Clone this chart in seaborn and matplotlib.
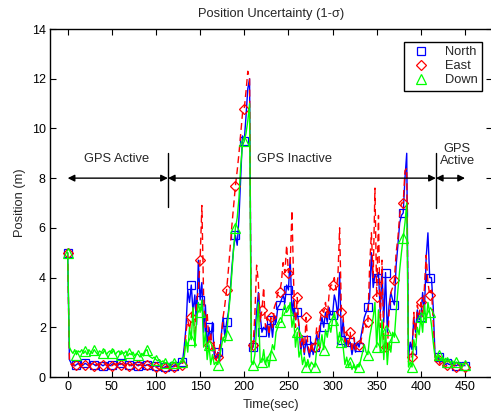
import numpy as np
import pandas as pd
import matplotlib
matplotlib.use("Agg")
import matplotlib.pyplot as plt
from matplotlib.lines import Line2D
import seaborn as sns

# ---------------- data (sampled every 2 s, 0..450 s) ----------------
north_active1 = [5.0, 0.7, 0.55, 0.5, 0.45, 0.5, 0.55, 0.5, 0.45, 0.5,
                 0.55, 0.5, 0.45, 0.5, 0.55, 0.5, 0.45, 0.5, 0.55, 0.5,
                 0.45, 0.5, 0.55, 0.5, 0.45, 0.5, 0.55, 0.5, 0.45, 0.5,
                 0.55, 0.5, 0.45, 0.5, 0.55, 0.5, 0.45, 0.5, 0.55, 0.5,
                 0.45, 0.5, 0.55, 0.5, 0.45, 0.5, 0.5, 0.45, 0.4, 0.45,
                 0.45, 0.4, 0.45, 0.4, 0.35, 0.4, 0.45, 0.4, 0.45, 0.4,
                 0.45, 0.5, 0.45, 0.5, 0.55]
north_inactive = [0.6, 1.2, 2.0, 3.5, 3.0, 3.7, 2.6, 3.3, 2.1, 4.7,
                  3.1, 3.8, 1.8, 2.9, 1.2, 2.0, 1.5, 2.2, 0.9, 0.7,
                  1.0, 0.6, 1.7, 2.4, 1.6, 2.2, 2.6, 3.4, 4.4, 5.2,
                  5.7, 5.3, 6.4, 8.0, 9.7, 9.5, 10.5, 11.6, 12.0, 1.1,
                  1.2, 1.8, 2.6, 3.4, 2.5, 1.8, 2.0, 1.9, 2.1, 1.6,
                  2.3, 1.6, 2.4, 2.2, 2.8, 2.9, 3.1, 3.3, 3.0, 3.7,
                  3.5, 4.8, 2.6, 3.1, 2.3, 2.6, 2.1, 1.0, 1.6, 0.9,
                  1.5, 1.1, 0.8, 1.4, 0.9, 1.2, 1.7, 1.3, 2.0, 2.4,
                  2.0, 2.6, 2.2, 2.8, 2.5, 2.5, 3.3, 3.0, 2.4, 4.2,
                  1.5, 2.3, 1.2, 1.5, 1.3, 1.4, 0.9, 1.3, 1.0, 1.4,
                  1.2, 1.6, 2.0, 2.4, 2.6, 2.8, 3.2, 5.0, 3.6, 4.1,
                  4.0, 4.2, 2.6, 4.3, 2.2, 4.2, 1.8, 2.9, 3.4, 3.1,
                  2.9, 4.5, 5.3, 6.2, 6.5, 6.6, 8.0, 9.0, 0.8, 1.4,
                  1.1, 2.4, 1.8, 2.7, 2.3, 2.4, 3.4, 2.6, 4.8, 5.8,
                  4.0, 4.0, 2.8]
north_active2 = [0.9, 0.7, 0.8, 0.6, 0.7, 0.6, 0.5, 0.55, 0.5, 0.5,
                 0.45, 0.5, 0.45, 0.5, 0.45, 0.45, 0.5, 0.45]

east_active1 = [5.0, 0.65, 0.5, 0.55, 0.45, 0.5, 0.55, 0.45, 0.5, 0.5,
                0.5, 0.55, 0.45, 0.5, 0.55, 0.45, 0.5, 0.5, 0.55, 0.45,
                0.5, 0.55, 0.45, 0.5, 0.55, 0.45, 0.5, 0.5, 0.55, 0.45,
                0.5, 0.55, 0.45, 0.5, 0.55, 0.45, 0.5, 0.5, 0.55, 0.45,
                0.5, 0.5, 0.45, 0.5, 0.45, 0.5, 0.45, 0.4, 0.45, 0.4,
                0.4, 0.35, 0.3, 0.35, 0.3, 0.35, 0.4, 0.35, 0.4, 0.45,
                0.4, 0.45, 0.4, 0.45, 0.5]
east_inactive = [0.5, 0.9, 1.8, 2.3, 1.9, 2.4, 2.8, 1.6, 3.0, 3.5,
                 4.7, 6.9, 3.2, 2.0, 2.6, 1.3, 1.8, 1.0, 1.4, 0.7,
                 0.8, 1.2, 1.6, 2.4, 2.9, 3.5, 4.3, 5.2, 6.1, 6.9,
                 7.7, 8.3, 9.0, 9.8, 10.6, 10.8, 11.5, 12.3, 12.0, 1.0,
                 1.3, 2.5, 4.5, 3.8, 2.2, 2.7, 3.6, 2.0, 2.4, 1.7,
                 2.4, 2.0, 2.8, 3.0, 3.4, 3.4, 3.8, 4.6, 4.2, 5.3,
                 4.2, 4.5, 6.7, 3.7, 2.0, 3.2, 1.9, 1.2, 1.7, 1.0,
                 2.4, 1.3, 0.9, 1.4, 1.1, 1.2, 2.0, 1.6, 2.3, 2.7,
                 2.6, 3.0, 2.4, 3.3, 3.7, 3.7, 4.0, 3.5, 4.0, 6.0,
                 2.6, 2.4, 1.4, 1.8, 1.2, 1.8, 1.0, 1.6, 1.1, 1.3,
                 1.3, 1.4, 1.8, 2.2, 2.0, 2.2, 4.5, 5.8, 4.0, 7.6,
                 3.2, 6.5, 2.0, 4.7, 1.5, 1.2, 1.0, 2.6, 3.4, 3.6,
                 3.9, 5.0, 5.6, 6.5, 7.0, 7.0, 8.3, 8.4, 0.6, 0.9,
                 0.8, 2.6, 1.6, 2.9, 2.5, 3.0, 2.4, 3.6, 4.9, 3.8,
                 3.3, 3.5, 2.2]
east_active2 = [0.8, 0.6, 0.7, 0.5, 0.6, 0.5, 0.4, 0.5, 0.45, 0.4,
                0.5, 0.45, 0.4, 0.45, 0.5, 0.4, 0.45, 0.4]

down_active1 = [5.0, 1.2, 1.05, 0.95, 1.1, 0.9, 1.05, 1.0, 1.1, 0.95,
                1.05, 0.9, 1.1, 1.0, 0.95, 1.1, 1.0, 0.9, 1.05, 1.0,
                0.95, 1.1, 0.9, 1.0, 1.05, 0.95, 1.1, 0.9, 1.0, 1.05,
                0.9, 1.0, 0.95, 1.05, 0.85, 0.95, 0.9, 1.0, 0.85, 0.95,
                0.9, 0.8, 0.95, 0.85, 1.05, 1.1, 0.85, 0.8, 0.75, 0.8,
                0.7, 0.65, 0.7, 0.6, 0.65, 0.55, 0.6, 0.5, 0.55, 0.6,
                0.55, 0.6, 0.5, 0.55, 0.6]
down_inactive = [0.6, 0.8, 1.5, 1.0, 2.0, 1.5, 2.8, 1.2, 2.3, 3.0,
                 2.6, 3.1, 1.2, 1.8, 0.7, 1.3, 0.5, 0.9, 0.5, 0.6,
                 0.5, 0.8, 1.2, 1.6, 1.4, 1.7, 2.5, 3.2, 4.2, 5.2,
                 6.0, 6.4, 7.2, 8.5, 9.3, 9.5, 9.8, 10.3, 11.0, 0.6,
                 0.5, 0.9, 2.0, 3.0, 0.6, 0.6, 1.1, 0.5, 0.8, 0.4,
                 0.9, 1.3, 1.1, 1.8, 2.0, 2.2, 2.2, 2.7, 2.9, 2.6,
                 2.7, 3.0, 2.0, 2.4, 1.2, 1.8, 0.8, 1.1, 0.5, 0.8,
                 0.4, 0.7, 0.4, 0.6, 0.5, 0.4, 1.1, 1.5, 1.2, 1.7,
                 1.1, 1.9, 1.6, 2.1, 1.8, 2.3, 2.6, 2.2, 1.4, 1.8,
                 1.4, 1.2, 0.5, 0.8, 0.4, 0.6, 0.3, 0.5, 0.3, 0.5,
                 0.4, 0.7, 1.0, 1.3, 1.0, 0.9, 1.6, 2.0, 2.4, 3.0,
                 1.2, 2.7, 1.0, 2.3, 0.7, 1.9, 0.5, 1.4, 1.0, 1.8,
                 1.6, 2.6, 3.5, 4.3, 5.0, 5.6, 6.2, 7.0, 0.4, 0.6,
                 0.4, 1.5, 1.1, 2.0, 1.7, 2.4, 1.8, 2.9, 2.2, 3.0,
                 2.6, 2.1, 1.4]
down_active2 = [0.8, 0.7, 0.9, 0.7, 0.8, 0.6, 0.75, 0.6, 0.7, 0.55,
                0.65, 0.5, 0.6, 0.55, 0.5, 0.55, 0.5, 0.5]

north = north_active1 + north_inactive + north_active2
east = east_active1 + east_inactive + east_active2
down = down_active1 + down_inactive + down_active2
sample_period = 2
time = [i * sample_period for i in range(len(north))]

series_names = ["North", "East", "Down"]
x_ticks = [0, 50, 100, 150, 200, 250, 300, 350, 400, 450]
y_ticks = [0, 2, 4, 6, 8, 10, 12, 14]

# GPS phases (boundaries in seconds)
phase_start = 0
gps_off = 113.5
gps_on = 417
phase_end = 450

# ---------------- figure ----------------
sns.set_style("ticks")
plt.rcParams["font.family"] = ["Liberation Sans", "DejaVu Sans"]
plt.rcParams["axes.linewidth"] = 1.0
FS = 9.3

fig = plt.figure(figsize=(4.91, 4.16), dpi=100)
ax = fig.add_axes([50 / 491, 39 / 416, 441.5 / 491, 348 / 416])

df = pd.DataFrame({"time": time, "North": north, "East": east, "Down": down})

styles = {
    "North": dict(color="#0000FF", linestyle="-", marker="s"),
    "East": dict(color="#FF0000", linestyle=(0, (5, 3)), marker="D"),
    "Down": dict(color="#00FF00", linestyle="-", marker="^"),
}
msize = {"North": 5.8, "East": 5.0, "Down": 6.5}

for name in series_names:
    st = styles[name]
    sns.lineplot(data=df, x="time", y=name, ax=ax, estimator=None, sort=False,
                 color=st["color"], linestyle=st["linestyle"], linewidth=1.0,
                 marker=st["marker"], markevery=5, markersize=msize[name],
                 markerfacecolor="none", markeredgecolor=st["color"],
                 markeredgewidth=0.9, legend=False)

ax.set_xlim(-20, 480)
ax.set_ylim(0, 14)
ax.set_xticks(x_ticks)
ax.set_yticks(y_ticks)
ax.tick_params(direction="in", length=4, width=0.8, top=True, right=True,
               labelsize=9, colors="black", pad=3)
for sp in ax.spines.values():
    sp.set_visible(True)
    sp.set_color("black")

ax.set_title("Position Uncertainty (1-σ)", fontsize=FS, pad=9)
ax.set_xlabel("Time(sec)", fontsize=FS, labelpad=4)
ax.set_ylabel("Position (m)", fontsize=FS, labelpad=4)

# GPS phase annotations
arrow_y = 8.0
akw = dict(arrowstyle="<|-|>", color="black", lw=1.0, mutation_scale=10,
           shrinkA=0, shrinkB=0)
ax.annotate("", xy=(phase_start, arrow_y), xytext=(gps_off, arrow_y), arrowprops=akw)
ax.annotate("", xy=(gps_off, arrow_y), xytext=(gps_on, arrow_y), arrowprops=akw)
ax.annotate("", xy=(gps_on, arrow_y), xytext=(phase_end, arrow_y), arrowprops=akw)
ax.plot([gps_off, gps_off], [6.85, 9.0], color="black", lw=1.0)
ax.plot([gps_on, gps_on], [6.8, 9.0], color="black", lw=1.0)
ax.text(55, 8.75, "GPS Active", ha="center", va="center", fontsize=FS)
ax.text(257, 8.75, "GPS Inactive", ha="center", va="center", fontsize=FS)
ax.text(441, 8.93, "GPS\nActive", ha="center", va="center", fontsize=FS,
        linespacing=1.1)

handles = [Line2D([], [], linestyle="none", marker=styles[n]["marker"],
                  markersize=msize[n], markerfacecolor="none",
                  markeredgecolor=styles[n]["color"], markeredgewidth=0.9)
           for n in series_names]
leg = ax.legend(handles, series_names, loc="upper right", fontsize=FS,
                frameon=True, fancybox=False, edgecolor="black",
                borderpad=0.35, labelspacing=0.15, handletextpad=1.0,
                handlelength=1.8, bbox_to_anchor=(0.994, 0.982))
leg.get_frame().set_linewidth(1.0)
leg.get_frame().set_alpha(1)

fig.savefig("out.png", dpi=100)
